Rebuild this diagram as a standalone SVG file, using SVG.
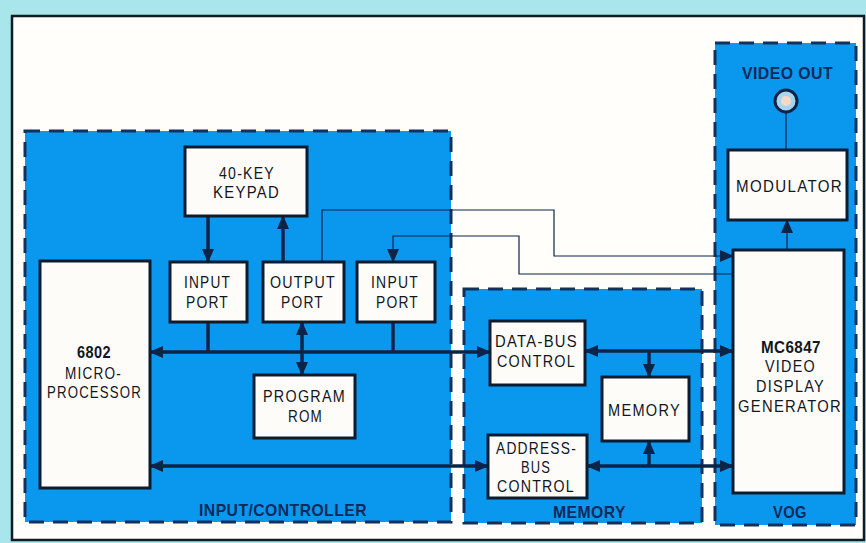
<svg xmlns="http://www.w3.org/2000/svg" width="866" height="543" viewBox="0 0 866 543">
<style>
.region{fill:#0a98ee;stroke:#12305a;stroke-width:3;stroke-dasharray:15 9}
.box{fill:#fdfcf8;stroke:#0c1c30;stroke-width:3}
text{font-family:"Liberation Sans",Arial,sans-serif;font-size:17px;fill:#12161e;letter-spacing:1.5px}
.lab{fill:#0c2a5c;font-weight:bold;letter-spacing:.5px}
.bold{font-weight:bold;letter-spacing:.5px}
.bus{fill:none;stroke:#0c2448;stroke-width:3.5}
.thin{fill:none;stroke:#0c2448;stroke-width:1.2}
</style>
<defs>
<marker id="a" markerUnits="userSpaceOnUse" markerWidth="14" markerHeight="14" refX="13" refY="7" orient="auto-start-reverse"><path d="M0 1L14 7L0 13Z" fill="#0c2448"/></marker>
</defs>
<rect width="866" height="543" fill="#a8e6ec"/>
<rect x="12" y="16" width="852" height="524" fill="#fffefb" stroke="#111c22" stroke-width="2.5"/>
<g id="region-input-controller"><rect class="region" x="25" y="131" width="426" height="391"/><text class="lab" x="199" y="516" textLength="168" lengthAdjust="spacingAndGlyphs">INPUT/CONTROLLER</text></g>
<g id="region-memory"><rect class="region" x="464" y="289" width="238" height="234"/><text class="lab" x="553" y="518" textLength="73" lengthAdjust="spacingAndGlyphs">MEMORY</text></g>
<g id="region-vog"><rect class="region" x="715" y="43" width="141" height="482"/><text class="lab" x="773" y="518" textLength="34" lengthAdjust="spacingAndGlyphs">VOG</text></g>
<g id="connectors">
<path class="bus" d="M150 352H490" marker-start="url(#a)" marker-end="url(#a)"/>
<path class="bus" d="M150 466H488" marker-start="url(#a)" marker-end="url(#a)"/>
<path class="bus" d="M585 351H733" marker-start="url(#a)" marker-end="url(#a)"/>
<path class="bus" d="M587 466H733" marker-start="url(#a)" marker-end="url(#a)"/>
<path class="bus" d="M649 351V377" marker-end="url(#a)"/>
<path class="bus" d="M649 466V441" marker-end="url(#a)"/>
<path class="bus" d="M208 216V262" marker-end="url(#a)"/>
<path class="bus" d="M283 262V216" marker-end="url(#a)"/>
<path class="bus" d="M208 322V352"/>
<path class="bus" d="M302 322V375" marker-start="url(#a)" marker-end="url(#a)"/>
<path class="bus" d="M393 322V352"/>
<path class="thin" d="M322 262V210H554V256H733" marker-end="url(#a)"/>
<path class="thin" d="M733 274H519V236H393V262" marker-end="url(#a)"/>
<path class="thin" d="M787 250V220" marker-end="url(#a)"/>
<path class="thin" d="M786 150V112"/>
</g>
<g id="keypad"><rect class="box" x="185" y="147" width="122" height="69"/><text x="219" y="179" textLength="56" lengthAdjust="spacingAndGlyphs">40-KEY</text><text x="213" y="198" textLength="67" lengthAdjust="spacingAndGlyphs">KEYPAD</text></g>
<g id="input-port-1"><rect class="box" x="170" y="262" width="77" height="60"/><text x="184" y="288" textLength="47" lengthAdjust="spacingAndGlyphs">INPUT</text><text x="186" y="308" textLength="43" lengthAdjust="spacingAndGlyphs">PORT</text></g>
<g id="output-port"><rect class="box" x="263" y="262" width="81" height="60"/><text x="270" y="288" textLength="66" lengthAdjust="spacingAndGlyphs">OUTPUT</text><text x="281" y="308" textLength="43" lengthAdjust="spacingAndGlyphs">PORT</text></g>
<g id="input-port-2"><rect class="box" x="357" y="262" width="78" height="60"/><text x="371" y="288" textLength="48" lengthAdjust="spacingAndGlyphs">INPUT</text><text x="376" y="308" textLength="43" lengthAdjust="spacingAndGlyphs">PORT</text></g>
<g id="microprocessor"><rect class="box" x="40" y="261" width="110" height="227"/><text class="bold" x="77" y="358" textLength="34" lengthAdjust="spacingAndGlyphs">6802</text><text x="65" y="379" textLength="57" lengthAdjust="spacingAndGlyphs">MICRO-</text><text x="47" y="398" textLength="95" lengthAdjust="spacingAndGlyphs">PROCESSOR</text></g>
<g id="program-rom"><rect class="box" x="254" y="375" width="101" height="63"/><text x="263" y="402" textLength="83" lengthAdjust="spacingAndGlyphs">PROGRAM</text><text x="288" y="422" textLength="35" lengthAdjust="spacingAndGlyphs">ROM</text></g>
<g id="data-bus-control"><rect class="box" x="490" y="321" width="95" height="64"/><text x="495" y="347" textLength="83" lengthAdjust="spacingAndGlyphs">DATA-BUS</text><text x="497" y="367" textLength="79" lengthAdjust="spacingAndGlyphs">CONTROL</text></g>
<g id="memory"><rect class="box" x="602" y="377" width="87" height="64"/><text x="608" y="416" textLength="73" lengthAdjust="spacingAndGlyphs">MEMORY</text></g>
<g id="address-bus-control"><rect class="box" x="488" y="435" width="99" height="63"/><text x="496" y="454" textLength="81" lengthAdjust="spacingAndGlyphs">ADDRESS-</text><text x="521" y="473" textLength="30" lengthAdjust="spacingAndGlyphs">BUS</text><text x="497" y="492" textLength="78" lengthAdjust="spacingAndGlyphs">CONTROL</text></g>
<g id="video-display-generator"><rect class="box" x="733" y="250" width="111" height="243"/><text class="bold" x="761" y="353" textLength="60" lengthAdjust="spacingAndGlyphs">MC6847</text><text x="765" y="372" textLength="51" lengthAdjust="spacingAndGlyphs">VIDEO</text><text x="756" y="392" textLength="69" lengthAdjust="spacingAndGlyphs">DISPLAY</text><text x="738" y="412" textLength="104" lengthAdjust="spacingAndGlyphs">GENERATOR</text></g>
<g id="modulator"><rect class="box" x="728" y="150" width="119" height="70"/><text x="736" y="192" textLength="107" lengthAdjust="spacingAndGlyphs">MODULATOR</text></g>
<g id="video-out"><text class="lab" x="742" y="79" textLength="91" lengthAdjust="spacingAndGlyphs">VIDEO OUT</text><circle cx="786" cy="101" r="11" fill="#a9d4ee" stroke="#0c2448" stroke-width="3"/><circle cx="786" cy="101" r="5" fill="#f4d8c8"/></g>
</svg>
